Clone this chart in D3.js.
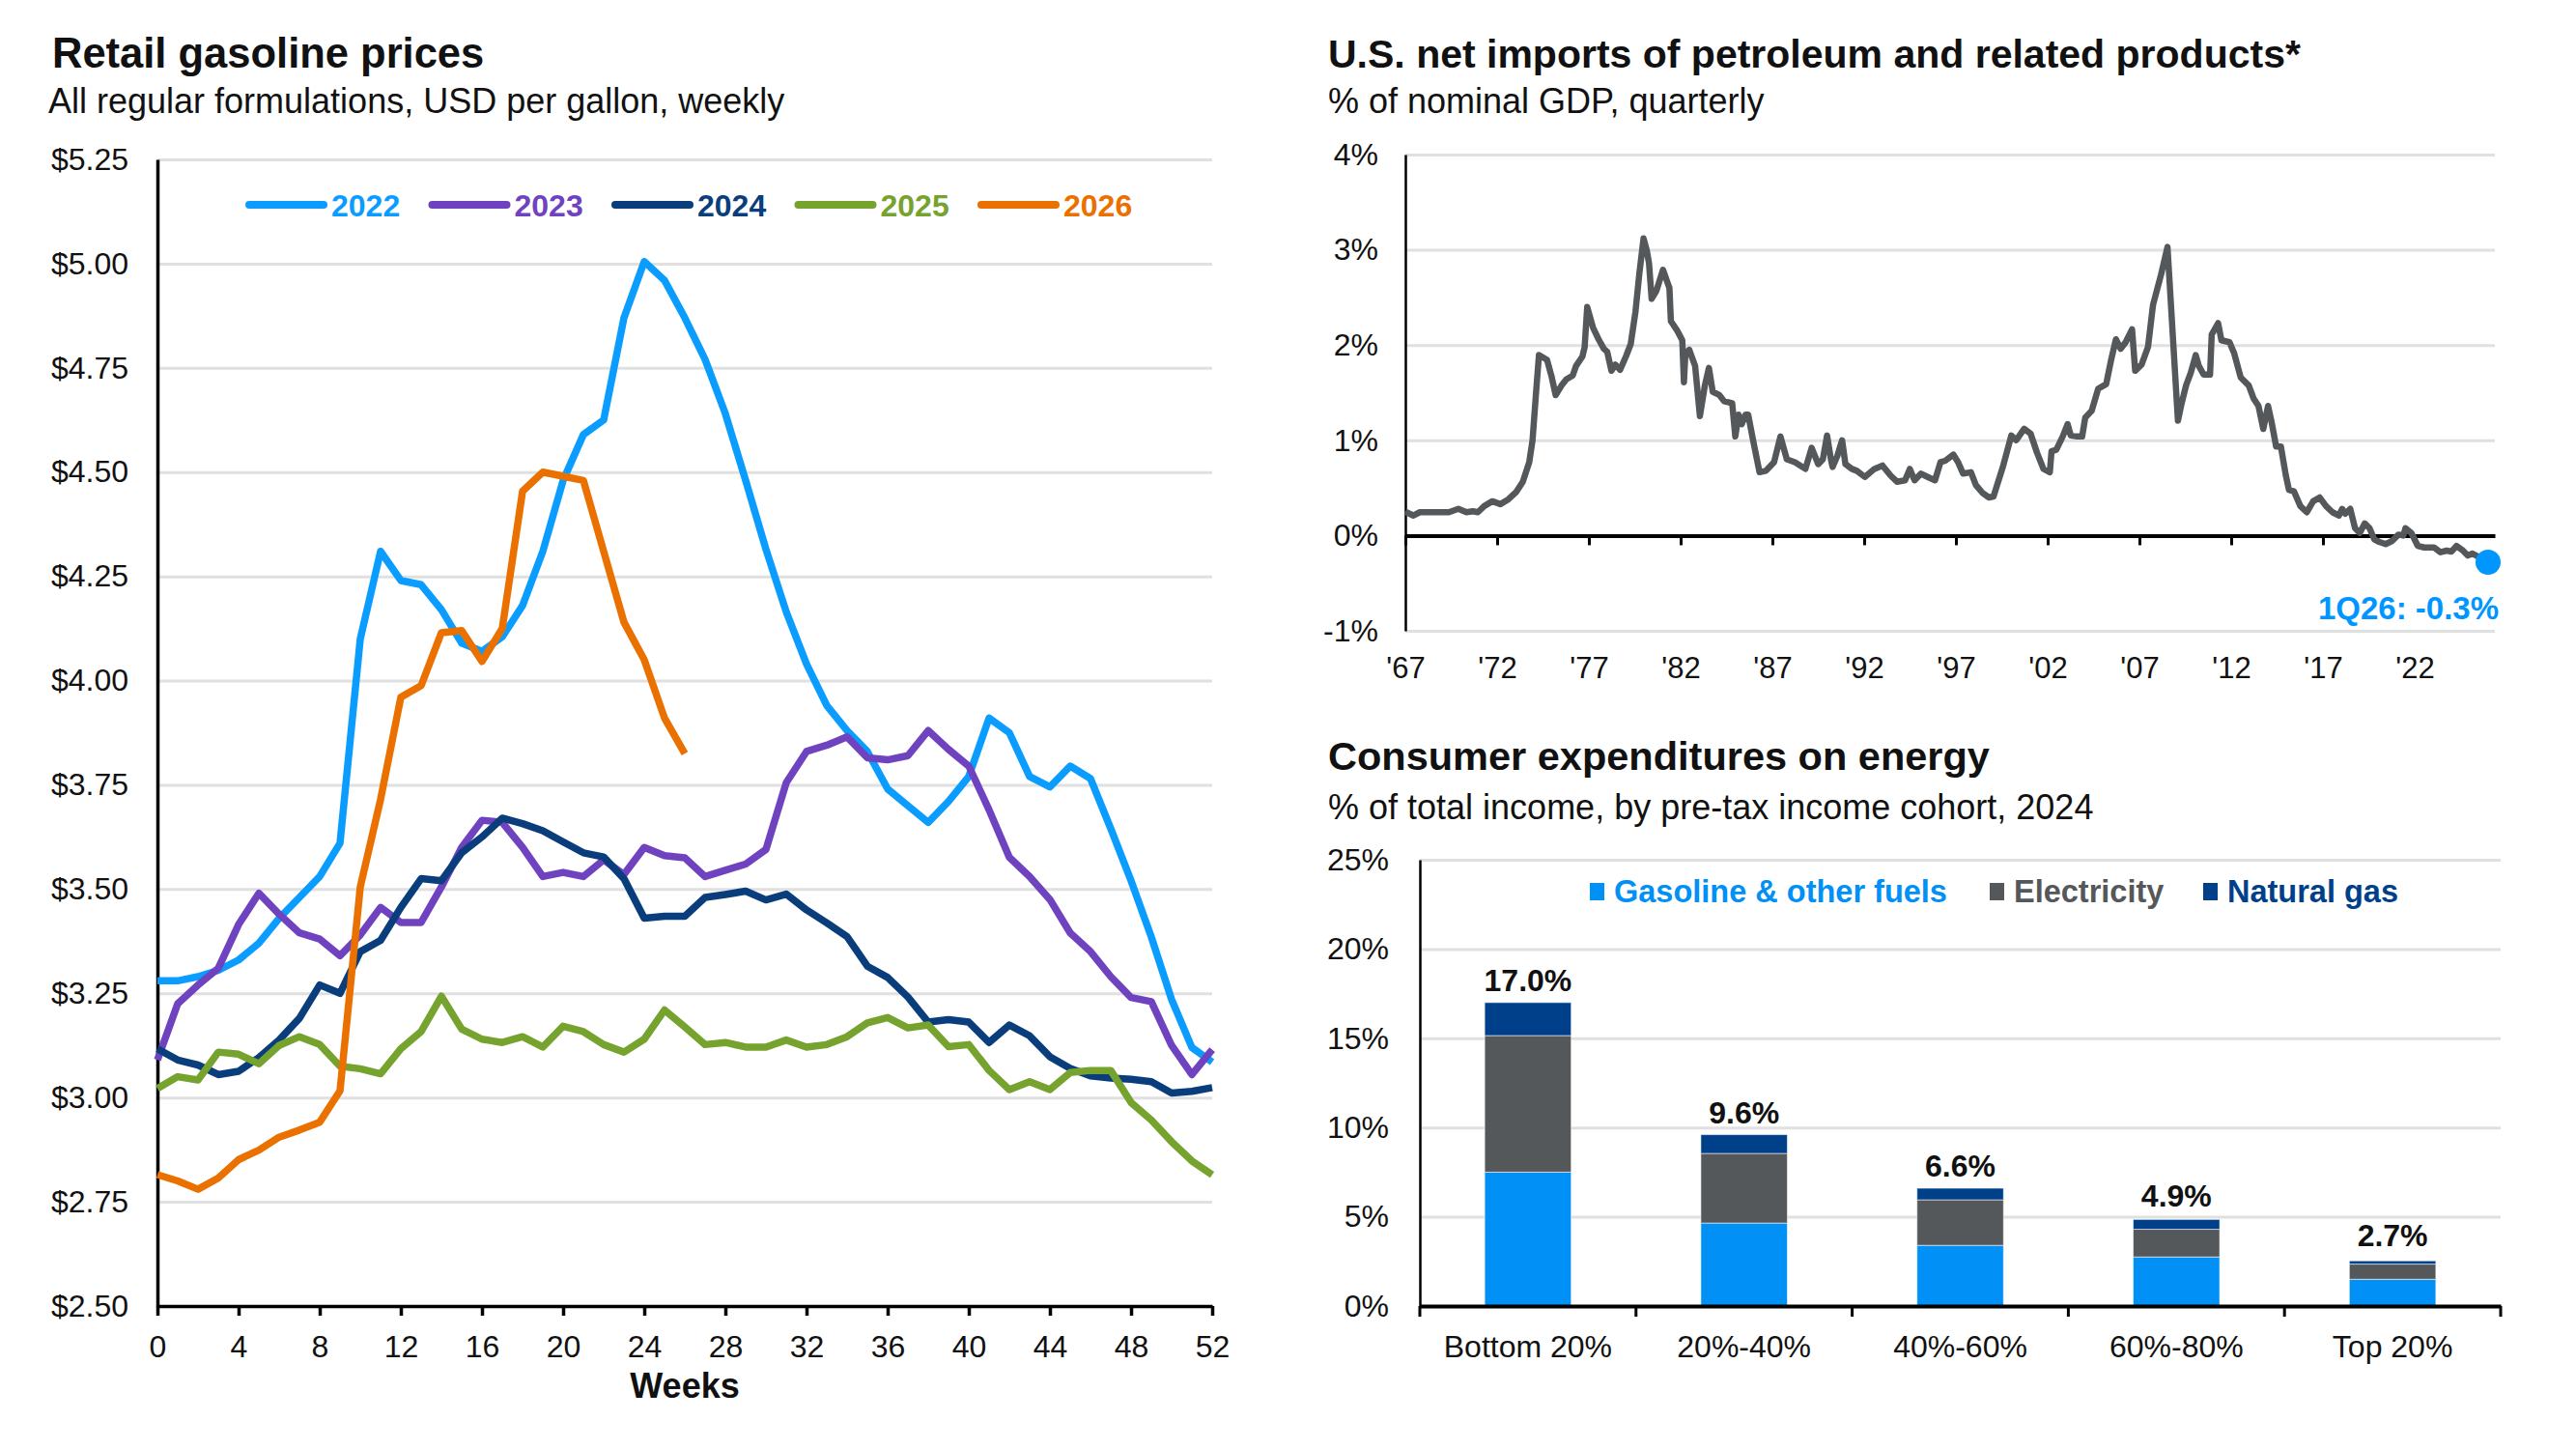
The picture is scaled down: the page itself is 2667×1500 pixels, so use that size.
<!DOCTYPE html>
<html>
<head>
<meta charset="utf-8">
<script src="https://cdn.jsdelivr.net/npm/d3@7"></script>
<style>
  body { margin: 0; background: #fff; }
  text { font-family: "Liberation Sans", Arial, sans-serif; fill: #111; }
</style>
</head>
<body>
<svg id="chart" width="2667" height="1500"></svg>
<script>
// ---- Retail gasoline prices (USD per gallon, by week of year)
const gasYears = ["2022", "2023", "2024", "2025", "2026"];
const gasColors = ["#0a9dff", "#6f43c0", "#0a3d7c", "#76a22e", "#ea7000"];
const gas2022 = [3.28, 3.28, 3.29, 3.305, 3.33, 3.37, 3.43, 3.48, 3.53, 3.61,
  4.10, 4.31, 4.24, 4.23, 4.17, 4.09, 4.07, 4.105, 4.18, 4.31,
  4.48, 4.59, 4.625, 4.87, 5.005, 4.96, 4.87, 4.77, 4.64, 4.48,
  4.315, 4.165, 4.04, 3.94, 3.88, 3.83, 3.74, 3.70, 3.66, 3.71,
  3.77, 3.91, 3.875, 3.77, 3.745, 3.795, 3.765, 3.645, 3.52, 3.385,
  3.235, 3.12, 3.085];
const gas2023 = [3.09, 3.225, 3.27, 3.31, 3.415, 3.49, 3.44, 3.395, 3.38, 3.34,
  3.39, 3.456, 3.42, 3.42, 3.505, 3.60, 3.665, 3.66, 3.60, 3.53,
  3.54, 3.53, 3.57, 3.535, 3.60, 3.58, 3.575, 3.53, 3.545, 3.56,
  3.595, 3.755, 3.83, 3.845, 3.865, 3.815, 3.81, 3.82, 3.88, 3.835,
  3.795, 3.69, 3.576, 3.53, 3.475, 3.395, 3.35, 3.29, 3.24, 3.23,
  3.125, 3.055, 3.115];
const gas2024 = [3.117, 3.09, 3.078, 3.055, 3.063, 3.096, 3.138, 3.19, 3.27, 3.25,
  3.35, 3.377, 3.456, 3.525, 3.52, 3.587, 3.625, 3.67, 3.657, 3.64,
  3.613, 3.587, 3.577, 3.525, 3.43, 3.435, 3.435, 3.48, 3.487, 3.495,
  3.474, 3.488, 3.45, 3.419, 3.386, 3.315, 3.288, 3.241, 3.181, 3.187,
  3.181, 3.132, 3.174, 3.148, 3.098, 3.07, 3.052, 3.047, 3.044, 3.038,
  3.011, 3.015, 3.024];
const gas2025 = [3.022, 3.05, 3.042, 3.109, 3.104, 3.081, 3.125, 3.146, 3.127, 3.075,
  3.069, 3.057, 3.117, 3.158, 3.243, 3.164, 3.14, 3.132, 3.146, 3.121,
  3.171, 3.158, 3.127, 3.109, 3.14, 3.21, 3.169, 3.127, 3.132, 3.121,
  3.121, 3.138, 3.121, 3.127, 3.146, 3.179, 3.192, 3.167, 3.174, 3.122,
  3.127, 3.065, 3.019, 3.038, 3.019, 3.06, 3.065, 3.065, 2.988, 2.946,
  2.894, 2.848, 2.815];
const gas2026 = [2.815, 2.80, 2.78, 2.807, 2.851, 2.874, 2.905, 2.922, 2.941, 3.016,
  3.505, 3.715, 3.96, 3.988, 4.115, 4.12, 4.046, 4.125, 4.454, 4.50,
  4.49, 4.48, 4.31, 4.14, 4.05, 3.91, 3.825];
const priceTicks = [2.50, 2.75, 3.00, 3.25, 3.50, 3.75, 4.00, 4.25, 4.50, 4.75, 5.00, 5.25];
const weekTicks = [0, 4, 8, 12, 16, 20, 24, 28, 32, 36, 40, 44, 48, 52];

// ---- U.S. net petroleum imports, % of GDP (decimal year, value)
const importYears = [1967.0, 1967.44, 1967.79, 1969.37, 1969.89, 1970.33, 1970.68, 1970.95, 1971.3, 1971.74,
  1972.18, 1972.61, 1973.05, 1973.4, 1973.75, 1973.93, 1974.11, 1974.28, 1974.72, 1974.98,
  1975.19, 1975.51, 1975.77, 1976.12, 1976.3, 1976.65, 1976.77, 1976.91, 1977.23, 1977.53,
  1977.82, 1978.0, 1978.23, 1978.44, 1978.7, 1979.02, 1979.28, 1979.54, 1979.75, 1979.98,
  1980.16, 1980.28, 1980.42, 1980.68, 1981.04, 1981.39, 1981.47, 1981.82, 1982.09, 1982.18,
  1982.26, 1982.47, 1982.79, 1983.05, 1983.32, 1983.54, 1983.75, 1984.11, 1984.37, 1984.81,
  1984.98, 1985.16, 1985.33, 1985.54, 1985.68, 1985.95, 1986.3, 1986.65, 1987.09, 1987.44,
  1987.79, 1988.23, 1988.8, 1989.14, 1989.5, 1989.75, 1989.98, 1990.19, 1990.28, 1990.54,
  1990.8, 1990.98, 1991.33, 1991.6, 1992.04, 1992.56, 1993.0, 1993.44, 1993.79, 1994.23,
  1994.49, 1994.75, 1995.1, 1995.46, 1995.86, 1996.16, 1996.42, 1996.86, 1997.12, 1997.39,
  1997.82, 1998.09, 1998.44, 1998.79, 1999.05, 1999.58, 2000.02, 2000.28, 2000.72, 2001.07,
  2001.42, 2001.77, 2002.12, 2002.21, 2002.47, 2002.82, 2003.09, 2003.26, 2003.61, 2003.88,
  2004.05, 2004.4, 2004.75, 2005.19, 2005.46, 2005.72, 2005.98, 2006.25, 2006.6, 2006.77,
  2007.12, 2007.47, 2007.74, 2008.18, 2008.53, 2009.1, 2009.28, 2009.54, 2009.8, 2010.07,
  2010.24, 2010.5, 2010.85, 2010.94, 2011.29, 2011.47, 2011.91, 2012.17, 2012.52, 2012.96,
  2013.22, 2013.49, 2013.75, 2014.01, 2014.19, 2014.45, 2014.71, 2014.98, 2015.15, 2015.42,
  2015.77, 2016.12, 2016.47, 2016.82, 2017.17, 2017.52, 2017.87, 2018.05, 2018.22, 2018.49,
  2018.75, 2019.01, 2019.28, 2019.54, 2019.8, 2020.07, 2020.42, 2020.77, 2021.12, 2021.38,
  2021.5, 2021.82, 2022.17, 2022.52, 2023.05, 2023.4, 2023.75, 2024.01, 2024.28, 2024.63,
  2024.89, 2025.15, 2025.5, 2026.0];
const importValues = [0.25, 0.21, 0.245, 0.245, 0.28, 0.245, 0.255, 0.245, 0.31, 0.36,
  0.33, 0.38, 0.46, 0.565, 0.77, 1.0, 1.47, 1.895, 1.845, 1.66,
  1.475, 1.575, 1.64, 1.68, 1.78, 1.88, 1.98, 2.40, 2.18, 2.06,
  1.96, 1.93, 1.73, 1.795, 1.74, 1.88, 2.01, 2.35, 2.75, 3.12,
  2.99, 2.855, 2.485, 2.57, 2.79, 2.60, 2.25, 2.15, 2.05, 1.61,
  1.91, 1.95, 1.78, 1.255, 1.575, 1.76, 1.51, 1.475, 1.41, 1.39,
  1.04, 1.27, 1.17, 1.27, 1.27, 1.0, 0.665, 0.68, 0.77, 1.04,
  0.80, 0.77, 0.70, 0.92, 0.75, 0.80, 1.05, 0.80, 0.72, 0.835,
  1.0, 0.75, 0.70, 0.68, 0.615, 0.70, 0.735, 0.63, 0.565, 0.58,
  0.70, 0.58, 0.65, 0.615, 0.58, 0.77, 0.785, 0.85, 0.77, 0.65,
  0.665, 0.53, 0.45, 0.40, 0.41, 0.735, 1.05, 1.0, 1.12, 1.07,
  0.87, 0.70, 0.665, 0.885, 0.90, 1.04, 1.17, 1.05, 1.04, 1.04,
  1.24, 1.31, 1.54, 1.59, 1.845, 2.06, 1.96, 2.03, 2.165, 1.73,
  1.795, 1.98, 2.42, 2.74, 3.03, 1.205, 1.37, 1.575, 1.71, 1.895,
  1.78, 1.69, 1.69, 2.11, 2.23, 2.05, 2.03, 1.91, 1.66, 1.575,
  1.44, 1.36, 1.12, 1.36, 1.205, 0.935, 0.935, 0.63, 0.48, 0.465,
  0.31, 0.245, 0.36, 0.40, 0.31, 0.245, 0.21, 0.28, 0.23, 0.28,
  0.077, 0.027, 0.128, 0.077, -0.04, -0.067, -0.09, -0.057, 0.01, 0.0,
  0.077, 0.027, -0.108, -0.125, -0.125, -0.175, -0.158, -0.168, -0.108, -0.158,
  -0.21, -0.19, -0.225, -0.28];
const importPctTicks = [-1, 0, 1, 2, 3, 4];
const importYearTicks = [1967, 1972, 1977, 1982, 1987, 1992, 1997, 2002, 2007, 2012, 2017, 2022];
const lastLabel = "1Q26: -0.3%";

// ---- Consumer expenditures on energy, % of income
const cohorts = ["Bottom 20%", "20%-40%", "40%-60%", "60%-80%", "Top 20%"];
const energyKeys = ["Gasoline & other fuels", "Electricity", "Natural gas"];
const energyColors = ["#0090f6", "#54585b", "#00408a"];
const gasolineShare = [7.5, 4.65, 3.4, 2.75, 1.5];
const electricityShare = [7.65, 3.9, 2.55, 1.55, 0.85];
const natGasShare = [1.85, 1.05, 0.65, 0.55, 0.18];
const energyTotals = ["17.0%", "9.6%", "6.6%", "4.9%", "2.7%"];
const energyTicks = [0, 5, 10, 15, 20, 25];

const svg = d3.select("#chart");
const gridColor = "#e0e0e0";

function title(x, y, t, size) {
  svg.append("text").attr("x", x).attr("y", y)
    .style("font-size", size + "px").style("font-weight", "bold").text(t);
}
function subtitle(x, y, t) {
  svg.append("text").attr("x", x).attr("y", y)
    .style("font-size", "36px").text(t);
}
function styleTicks(g, size) {
  g.selectAll("text").style("font-size", size + "px").attr("fill", "#111")
    .style("font-family", "'Liberation Sans', Arial, sans-serif");
}

// =============== Left: retail gasoline ===============
title(54, 70, "Retail gasoline prices", 43.5);
subtitle(50, 117, "All regular formulations, USD per gallon, weekly");

const x = d3.scaleLinear().domain([0, 52]).range([163, 1255]);
const y = d3.scaleLinear().domain([2.5, 5.25]).range([1352, 165]);

// gridlines
svg.append("g")
  .attr("transform", "translate(163,0)")
  .call(d3.axisLeft(y).tickValues(priceTicks.slice(1)).tickSize(-(1255 - 163)).tickFormat(""))
  .call(g => g.select(".domain").remove())
  .selectAll("line").attr("stroke", gridColor).attr("stroke-width", 3);

// y labels + axis line
svg.append("g")
  .attr("transform", "translate(163,0)")
  .call(d3.axisLeft(y).tickValues(priceTicks).tickSize(0).tickPadding(30)
    .tickFormat(d => "$" + d3.format(".2f")(d)))
  .call(g => g.select(".domain").attr("stroke", "#000").attr("stroke-width", 3.5))
  .call(g => styleTicks(g, 32));

// lines
const line = d3.line().x((d, i) => x(i)).y(d => y(d));
[gas2022, gas2023, gas2024, gas2025, gas2026].forEach((s, i) => {
  svg.append("path").datum(s)
    .attr("d", line)
    .attr("fill", "none")
    .attr("stroke", gasColors[i])
    .attr("stroke-width", 7.5)
    .attr("stroke-linejoin", "round");
});

// x axis
svg.append("g")
  .attr("transform", "translate(0,1352)")
  .call(d3.axisBottom(x).tickValues(weekTicks).tickSize(10).tickSizeOuter(0).tickPadding(20))
  .call(g => g.select(".domain").attr("stroke", "#000").attr("stroke-width", 3.5))
  .call(g => g.selectAll("line").attr("stroke", "#000").attr("stroke-width", 3.5))
  .call(g => styleTicks(g, 32));

svg.append("text").attr("x", 709).attr("y", 1447).attr("text-anchor", "middle")
  .style("font-size", "36px").style("font-weight", "bold").text("Weeks");

// legend
const leg = svg.append("g");
gasYears.forEach((yr, i) => {
  const lx = 258 + i * 189.5;
  leg.append("line").attr("x1", lx).attr("x2", lx + 77).attr("y1", 212).attr("y2", 212)
    .attr("stroke", gasColors[i]).attr("stroke-width", 8).attr("stroke-linecap", "round");
  leg.append("text").attr("x", lx + 85).attr("y", 224)
    .style("font-size", "32px").style("font-weight", "bold")
    .style("fill", gasColors[i]).text(yr);
});

// =============== Right top: net imports ===============
title(1375, 70, "U.S. net imports of petroleum and related products*", 41);
subtitle(1375, 117, "% of nominal GDP, quarterly");

const xr = d3.scaleLinear().domain([1967, 2026.37]).range([1455, 2583]);
const yr = d3.scaleLinear().domain([-1, 4]).range([653, 160]);

svg.append("g")
  .attr("transform", "translate(1455,0)")
  .call(d3.axisLeft(yr).tickValues(importPctTicks.filter(d => d !== 0)).tickSize(-(2583 - 1455)).tickFormat(""))
  .call(g => g.select(".domain").remove())
  .selectAll("line").attr("stroke", gridColor).attr("stroke-width", 3);

svg.append("g")
  .attr("transform", "translate(1455,0)")
  .call(d3.axisLeft(yr).tickValues(importPctTicks).tickSize(0).tickPadding(28)
    .tickFormat(d => d + "%"))
  .call(g => g.select(".domain").attr("stroke", "#000").attr("stroke-width", 2.5))
  .call(g => styleTicks(g, 32));

// zero line with year ticks
svg.append("g")
  .attr("transform", `translate(0,${yr(0)})`)
  .call(d3.axisBottom(xr).tickValues(importYearTicks).tickSize(10).tickSizeOuter(0).tickFormat(""))
  .call(g => g.select(".domain").attr("stroke", "#000").attr("stroke-width", 4))
  .call(g => g.selectAll("line").attr("stroke", "#000").attr("stroke-width", 3));

// year labels below the plot
svg.append("g")
  .attr("transform", `translate(0,${yr(-1)})`)
  .call(d3.axisBottom(xr).tickValues(importYearTicks).tickSize(0).tickPadding(27)
    .tickFormat(d => "'" + String(d).slice(2)))
  .call(g => g.select(".domain").remove())
  .call(g => styleTicks(g, 31));

const importPts = importYears.map((d, i) => [d, importValues[i]]);
svg.append("path").datum(importPts)
  .attr("d", d3.line().x(d => xr(d[0])).y(d => yr(d[1])))
  .attr("fill", "none").attr("stroke", "#54585b").attr("stroke-width", 6.5)
  .attr("stroke-linejoin", "round");

const lastPt = importPts[importPts.length - 1];
svg.append("circle").attr("cx", xr(lastPt[0])).attr("cy", yr(lastPt[1])).attr("r", 13)
  .attr("fill", "#0096ff");
svg.append("text").attr("x", 2587).attr("y", 641).attr("text-anchor", "end")
  .style("font-size", "33px").style("font-weight", "bold").style("fill", "#0096ff")
  .text(lastLabel);

// =============== Right bottom: energy expenditures ===============
title(1375, 797, "Consumer expenditures on energy", 41.5);
subtitle(1375, 848, "% of total income, by pre-tax income cohort, 2024");

const xb = d3.scaleBand().domain(cohorts).range([1470, 2589]).paddingInner(0.6).paddingOuter(0.3);
const yb = d3.scaleLinear().domain([0, 25]).range([1352, 890]);

svg.append("g")
  .attr("transform", "translate(1470,0)")
  .call(d3.axisLeft(yb).tickValues(energyTicks.slice(1)).tickSize(-(2589 - 1470)).tickFormat(""))
  .call(g => g.select(".domain").remove())
  .selectAll("line").attr("stroke", gridColor).attr("stroke-width", 3);

svg.append("g")
  .attr("transform", "translate(1470,0)")
  .call(d3.axisLeft(yb).tickValues(energyTicks).tickSize(0).tickPadding(32)
    .tickFormat(d => d + "%"))
  .call(g => g.select(".domain").attr("stroke", "#000").attr("stroke-width", 2.5))
  .call(g => styleTicks(g, 32));

const energyRows = cohorts.map((c, i) => ({
  cohort: c,
  "Gasoline & other fuels": gasolineShare[i],
  "Electricity": electricityShare[i],
  "Natural gas": natGasShare[i]
}));
const stacked = d3.stack().keys(energyKeys)(energyRows);

svg.append("g").selectAll("g").data(stacked).join("g")
  .attr("fill", (d, i) => energyColors[i])
  .selectAll("rect").data(d => d).join("rect")
  .attr("x", d => xb(d.data.cohort))
  .attr("width", xb.bandwidth())
  .attr("y", d => yb(d[1]))
  .attr("height", d => yb(d[0]) - yb(d[1]))
  .attr("stroke", "#ffffff").attr("stroke-opacity", 0.55).attr("stroke-width", 1);

// total labels
svg.append("g").selectAll("text").data(energyRows).join("text")
  .attr("x", d => xb(d.cohort) + xb.bandwidth() / 2)
  .attr("y", (d, i) => yb(parseFloat(energyTotals[i])) - 12)
  .attr("text-anchor", "middle")
  .style("font-size", "32px").style("font-weight", "bold")
  .text((d, i) => energyTotals[i]);

// x axis: baseline, boundary ticks, cohort labels
svg.append("g")
  .attr("transform", "translate(0,1352)")
  .call(d3.axisBottom(xb).tickSize(0).tickPadding(30))
  .call(g => g.select(".domain").attr("stroke", "#000").attr("stroke-width", 4))
  .call(g => styleTicks(g, 32));

const bounds = cohorts.map(c => xb(c) - xb.step() * xb.paddingOuter()).concat([2589]);
svg.append("g").selectAll("line").data(bounds).join("line")
  .attr("x1", d => d).attr("x2", d => d)
  .attr("y1", 1352).attr("y2", 1363)
  .attr("stroke", "#000").attr("stroke-width", 3);

// legend
const legX = [1646, 2060, 2281];
energyKeys.forEach((k, i) => {
  svg.append("rect").attr("x", legX[i]).attr("y", 914).attr("width", 15).attr("height", 18)
    .attr("fill", energyColors[i]);
  svg.append("text").attr("x", legX[i] + 25).attr("y", 934)
    .style("font-size", "32.5px").style("font-weight", "bold")
    .style("fill", energyColors[i]).text(k);
});
</script>
</body>
</html>
